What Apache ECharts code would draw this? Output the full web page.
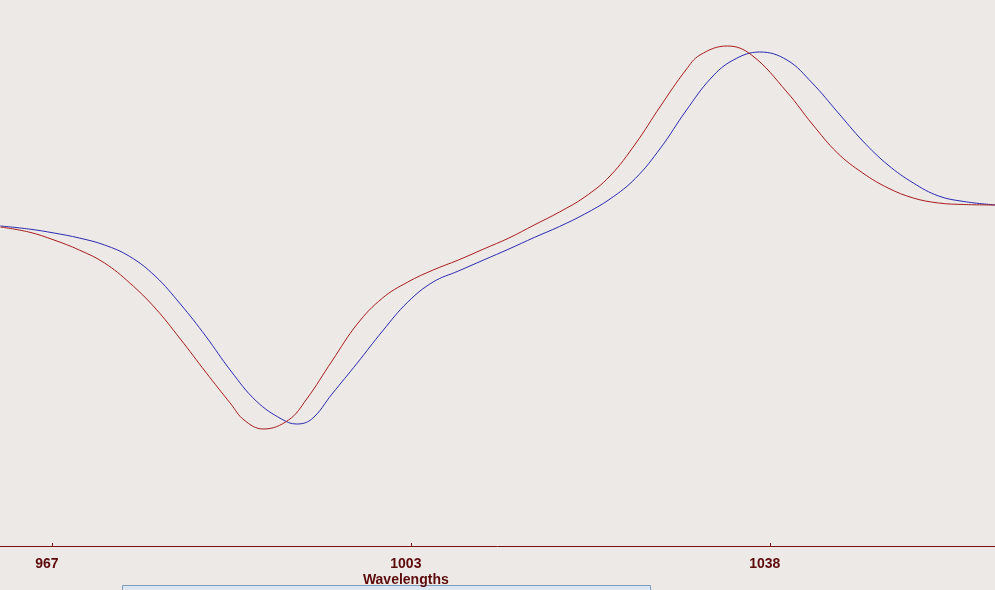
<!DOCTYPE html>
<html>
<head>
<meta charset="utf-8">
<script src="https://cdn.jsdelivr.net/npm/echarts@6/dist/echarts.min.js"></script>
<style>
html,body{margin:0;padding:0;background:#ECE9E7;}
#chart{width:995px;height:590px;}
</style>
</head>
<body>
<div id="chart"></div>
<script>
// Wavelength (nm) and derivative signal (arbitrary units) for the two spectra
const redWavelengths = [962.2,965,967.5,970,972.5,975,977.5,980,982.5,985,986.3,988.2,990.7,992.5,995,997.5,1000,1002.5,1005,1007.5,1010,1012.5,1015,1017.5,1020,1022.5,1025,1027.5,1030,1031.4,1034.1,1036.5,1040,1042.5,1045,1047.5,1050,1052.5,1055,1057.5,1060.6];
const redValues      = [93,88,80,70,57,37,12,-19,-52,-84,-100,-109,-100,-79,-41,-4,22,38,50,60,71,82,95,108,123,144,176,214,250,265,274,265,228,196,167,147,132,122,117,115.5,115];

const blueWavelengths = [962.2,965,967.5,970,972.5,975,977.5,980,982.5,985,987.5,990,991.5,993,995,997.5,1000,1002.5,1005,1007.5,1010,1012.5,1015,1017.5,1020,1022.5,1025,1027.5,1030,1032.5,1034.7,1037.3,1040,1042.5,1045,1047.5,1050,1052.5,1055,1057.5,1060.6];
const blueValues      = [94,91,87,82,75,63.5,44,16,-16,-51,-81,-99,-104,-99,-74,-43,-11,18,38,49,60,71,82.5,93.5,106,121,141.5,172,209,242,260,268,260,237,208,179,155,137,124,118.5,115];

const tickValues = [967.3, 1002.8, 1038.3];
const tickLabels = ['967', '1003', '1038'];
const axisName = 'Wavelengths';
const axisNameAt = 1002.3;

const pairs = (xs, ys) => xs.map((x, i) => [x, ys[i]]);

const chart = echarts.init(document.getElementById('chart'));
const rectGraphic = {type: 'rect', shape: {x: 122.5, y: 585.5, width: 528, height: 10},
  style: {fill: '#dce6f2', stroke: '#7f9db9', lineWidth: 1}};
chart.setOption({
  backgroundColor: '#ECE9E7',
  animation: false,
  grid: {left: 0, right: 0, top: 0, bottom: 44},
  xAxis: {
    type: 'value',
    min: 962.16,
    max: 1060.58,
    axisLine: {show: true, onZero: false, lineStyle: {color: '#7a1010', width: 1}},
    axisTick: {show: true, inside: true, length: 3, customValues: tickValues, lineStyle: {color: '#7a1010'}},
    axisLabel: {
      customValues: tickValues,
      formatter: v => { const i = tickValues.indexOf(v); return i >= 0 ? tickLabels[i] : String(Math.round(v)); },
      color: '#5c0a0a', fontFamily: 'Liberation Sans', fontWeight: 'bold', fontSize: 14,
      margin: 11, padding: [0, 10, 0, 0]
    },
    splitLine: {show: false}
  },
  yAxis: {
    type: 'value', min: -226, max: 320, show: false,
    splitLine: {show: false}
  },
  series: [
    {type: 'line', data: pairs(blueWavelengths, blueValues), smooth: 0.4, symbol: 'none',
     lineStyle: {color: '#2a2ab0', width: 1}},
    {type: 'line', data: pairs(redWavelengths, redValues), smooth: 0.4, symbol: 'none',
     lineStyle: {color: '#a81c1c', width: 1}}
  ],
  graphic: [rectGraphic]
});
const nx = chart.convertToPixel({xAxisIndex: 0}, axisNameAt);
chart.setOption({
  graphic: [
    rectGraphic,
    {type: 'text', x: nx, y: 580,
     style: {text: axisName, fill: '#5c0a0a', font: 'bold 14px "Liberation Sans"', align: 'center', verticalAlign: 'middle'}}
  ]
});
</script>
</body>
</html>
